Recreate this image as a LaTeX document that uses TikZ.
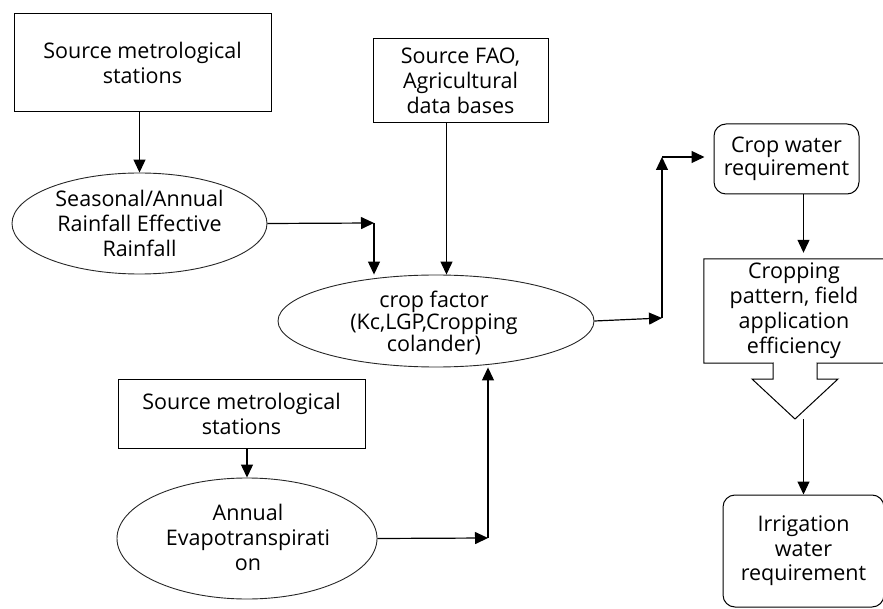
\documentclass[tikz,border=0pt]{standalone}
\usepackage{fontspec}
\setmainfont{Open Sans}
\usetikzlibrary{arrows.meta,shapes.geometric}

\begin{document}
\begin{tikzpicture}[x=1pt,y=-1pt,
  every node/.style={font=\fontsize{21.5}{25}\selectfont, align=center, inner sep=0pt},
  box/.style={draw, line width=1pt, rectangle},
  oval/.style={draw=black!85, line width=0.9pt, ellipse},
  rbox/.style={draw, line width=1pt, rounded corners=12pt},
  arr/.style={line width=1.2pt, -{Triangle[length=13pt,width=12pt]}}]
  \clip (0,0) rectangle (883,609);

  % Rainfall branch (top left)
  \node[box, minimum width=257pt, minimum height=98pt] (src1) at (142.5,63) {Source metrological\\stations};
  \node[oval, minimum width=255pt, minimum height=101pt] (rain) at (139.5,223.5) {};
  \node (rain-t) at (rain) {Seasonal/Annual\\Rainfall Effective\\Rainfall};

  % Crop data branch (top middle)
  \node[box, minimum width=175pt, minimum height=84pt] (fao) at (460.5,81) {Source FAO,\\Agricultural\\data bases};
  \node[oval, minimum width=316pt, minimum height=92pt] (crop) at (436,321) {};
  \node[font=\fontsize{21.5}{22}\selectfont] (crop-t) at (434,323) {crop factor\\(Kc,LGP,Cropping\\colander)};

  % Evapotranspiration branch (bottom left)
  \node[box, minimum width=247pt, minimum height=69pt] (src2) at (241.5,413.5) {Source metrological\\stations};
  \node[oval, minimum width=260pt, minimum height=121pt] (evap) at (247,538.5) {};
  \node (evap-t) at (248,537) {Annual\\Evapotranspirati\\on};

  % Right column
  \node[rbox, minimum width=145pt, minimum height=70pt, font=\fontsize{21.5}{23}\selectfont] (cwr) at (786.5,159) {Crop water\\requirement};
  \node[minimum width=180pt, minimum height=104pt] (cpat) at (794,311) {Cropping\\pattern, field\\application\\efficiency};
  \coordinate (cpat-tip) at (795,419);
  \draw[line width=1pt] (cpat.north west) -- (cpat.north east) -- (cpat.south east)
    -- (817,363) -- (817,379) -- (838,379) -- (cpat-tip) -- (752,379) -- (773,379) -- (773,363)
    -- (cpat.south west) -- cycle;
  \node[rbox, minimum width=161pt, minimum height=112pt, font=\fontsize{21.5}{24.5}\selectfont] (irr) at (803.5,551) {Irrigation\\water\\requirement};

  % Connectors
  \coordinate (c1) at (374,223);
  \coordinate (c3) at (662,318);
  \coordinate (c4) at (662,157);
  \coordinate (c5) at (488,538);
  \draw[arr] (rain.north |- src1.south) -- (rain.north);
  \draw[arr] (rain.east) -- (c1);
  \draw[arr] (c1) -- (c1 |- crop.north);
  \draw[arr] ([xshift=-14pt]fao.south) -- ([xshift=-14pt]fao.south |- crop.north);
  \draw[arr] (crop.east) -- (c3);
  \draw[arr] (c3) -- (c4);
  \draw[arr, shorten >=9pt] (c4) -- (c4 -| cwr.west);
  \draw[arr, shorten >=6pt] (irr.north |- cwr.south) -- (irr.north |- cpat.north);
  \draw[arr] (irr.north |- cpat-tip) -- (irr.north);
  \draw[arr] (evap.north |- src2.south) -- (evap.north);
  \draw[arr] (evap.east) -- (c5);
  \draw[arr] (c5) -- (c5 |- crop.south);
\end{tikzpicture}
\end{document}
